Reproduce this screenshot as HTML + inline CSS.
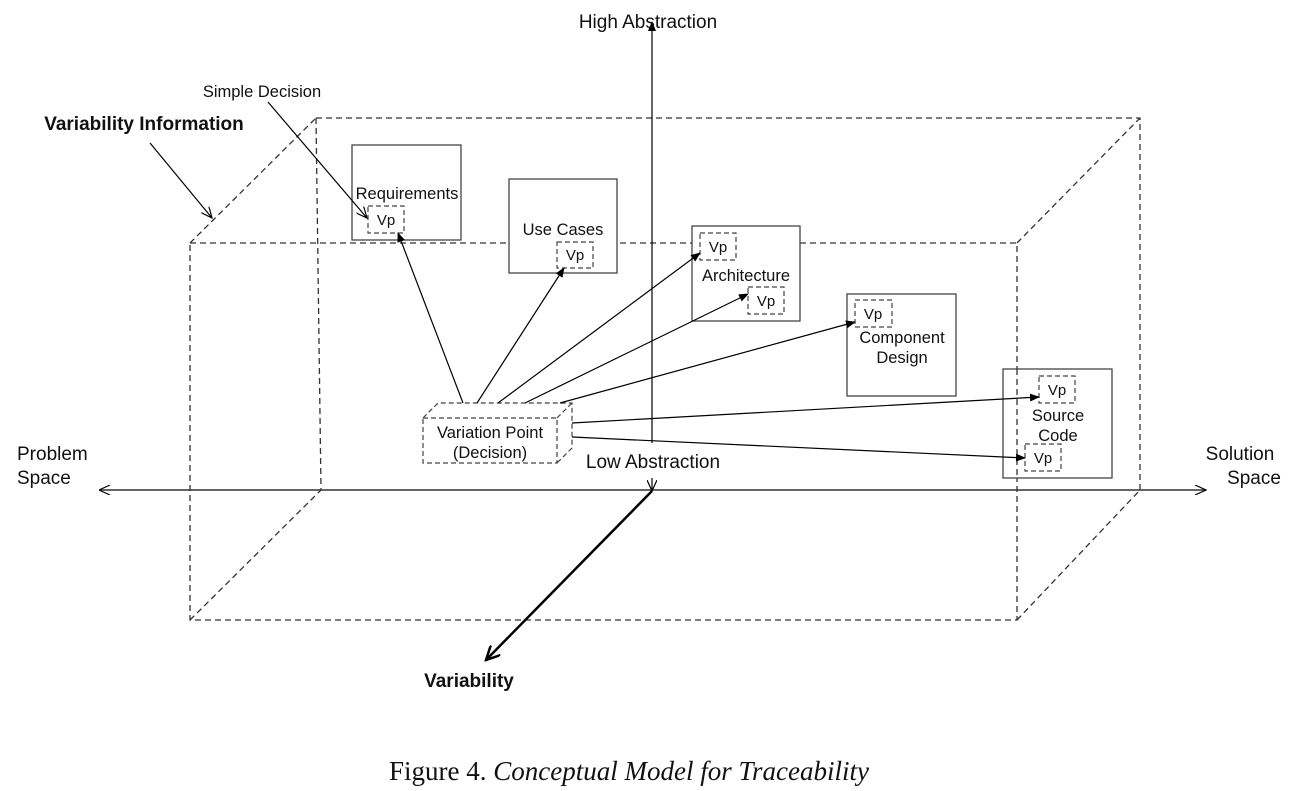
<!DOCTYPE html>
<html><head><meta charset="utf-8"><style>body{margin:0;background:#fff}svg{display:block}</style></head><body>
<svg width="1314" height="791" viewBox="0 0 1314 791" xmlns="http://www.w3.org/2000/svg" font-family="Liberation Sans, sans-serif">
<defs>
<marker id="a" markerWidth="10" markerHeight="8" refX="9" refY="4" orient="auto" markerUnits="userSpaceOnUse"><path d="M0,0 L10,4 L0,8 z" fill="#000"/></marker>
<marker id="o" markerWidth="12" markerHeight="10" refX="11" refY="5" orient="auto" markerUnits="userSpaceOnUse"><path d="M0,0 L11,5 L0,10" fill="none" stroke="#000" stroke-width="1.2"/></marker>
<marker id="os" markerWidth="12" markerHeight="10" refX="1" refY="5" orient="auto" markerUnits="userSpaceOnUse"><path d="M11,0 L0,5 L11,10" fill="none" stroke="#000" stroke-width="1.2"/></marker>
<marker id="t" markerWidth="16" markerHeight="14" refX="14" refY="7" orient="auto" markerUnits="userSpaceOnUse"><path d="M0,0 L14,7 L0,14" fill="none" stroke="#000" stroke-width="2.5"/></marker>
</defs>
<g fill="none" stroke="#333" stroke-width="1.3" stroke-dasharray="6,4">
<path d="M316,118 H1140 V490 M316,118 L321,490"/>
<rect x="190" y="243" width="827" height="377"/>
<path d="M190,243 L316,118 M1017,243 L1140,118 M190,620 L321,490 M1017,620 L1140,490"/>
</g>
<g fill="#fff" stroke="#444" stroke-width="1.3">
<rect x="352" y="145" width="109" height="95"/>
<rect x="509" y="179" width="108" height="94"/>
<rect x="692" y="226" width="108" height="95"/>
<rect x="847" y="294" width="109" height="102"/>
<rect x="1003" y="369" width="109" height="109"/>
</g>
<path d="M1017,369 V478" stroke="#333" stroke-width="1.3" stroke-dasharray="6,4"/>
<g fill="#fff" stroke="#444" stroke-width="1.2" stroke-dasharray="5,3">
<rect x="368" y="206" width="36" height="27"/>
<rect x="557" y="242" width="36" height="26"/>
<rect x="700" y="233" width="36" height="27"/>
<rect x="748" y="287" width="36" height="27"/>
<rect x="855" y="300" width="37" height="27"/>
<rect x="1039" y="376" width="36" height="27"/>
<rect x="1025" y="444" width="36" height="27"/>
<path d="M423,418 L438,403 H572 V448 L557,463 M557,418 L572,403" fill="none"/>
<rect x="423" y="418" width="134" height="45"/>
</g>
<g stroke="#000" stroke-width="1.2" fill="none">
<line x1="652" y1="443" x2="652" y2="22" marker-end="url(#a)"/>
<line x1="100" y1="490" x2="1206" y2="490" stroke="#333" stroke-width="1.6" marker-start="url(#os)" marker-end="url(#o)"/>
<line x1="652" y1="478" x2="652" y2="491" marker-end="url(#o)"/>
<line x1="652" y1="491" x2="486" y2="660" stroke-width="2.5" marker-end="url(#t)"/>
<line x1="150" y1="143" x2="212" y2="218" marker-end="url(#o)"/>
<line x1="268" y1="102" x2="367" y2="218" marker-end="url(#o)"/>
<line x1="463" y1="403" x2="398" y2="233" marker-end="url(#a)"/>
<line x1="477" y1="403" x2="564" y2="268" marker-end="url(#a)"/>
<line x1="498" y1="403" x2="700" y2="253" marker-end="url(#a)"/>
<line x1="525" y1="403" x2="748" y2="294" marker-end="url(#a)"/>
<line x1="560" y1="403" x2="855" y2="322" marker-end="url(#a)"/>
<line x1="572" y1="423" x2="1039" y2="397" marker-end="url(#a)"/>
<line x1="572" y1="437" x2="1025" y2="458" marker-end="url(#a)"/>
</g>
<g font-size="16.5" fill="#111" text-anchor="middle">
<text x="407" y="199">Requirements</text>
<text x="563" y="235">Use Cases</text>
<text x="746" y="281">Architecture</text>
<text x="902" y="343">Component</text>
<text x="902" y="363">Design</text>
<text x="1058" y="421">Source</text>
<text x="1058" y="441">Code</text>
<text x="490" y="438">Variation Point</text>
<text x="490" y="458">(Decision)</text>
<text x="386" y="225" font-size="15">Vp</text>
<text x="575" y="260" font-size="15">Vp</text>
<text x="718" y="252" font-size="15">Vp</text>
<text x="766" y="306" font-size="15">Vp</text>
<text x="873" y="319" font-size="15">Vp</text>
<text x="1057" y="395" font-size="15">Vp</text>
<text x="1043" y="463" font-size="15">Vp</text>
<text x="648" y="28" font-size="19">High Abstraction</text>
<text x="653" y="468" font-size="19">Low Abstraction</text>
<text x="17" y="460" font-size="19" text-anchor="start">Problem</text>
<text x="17" y="484" font-size="19" text-anchor="start">Space</text>
<text x="1240" y="460" font-size="19">Solution</text>
<text x="1254" y="484" font-size="19">Space</text>
<text x="262" y="97" font-size="16.5">Simple Decision</text>
<text x="144" y="130" font-size="19" font-weight="bold">Variability Information</text>
<text x="469" y="687" font-size="19" font-weight="bold">Variability</text>
<text x="629" y="780" font-size="27" font-family="Liberation Serif, serif">Figure 4. <tspan font-style="italic">Conceptual Model for Traceability</tspan></text>
</g>
</svg>
</body></html>
